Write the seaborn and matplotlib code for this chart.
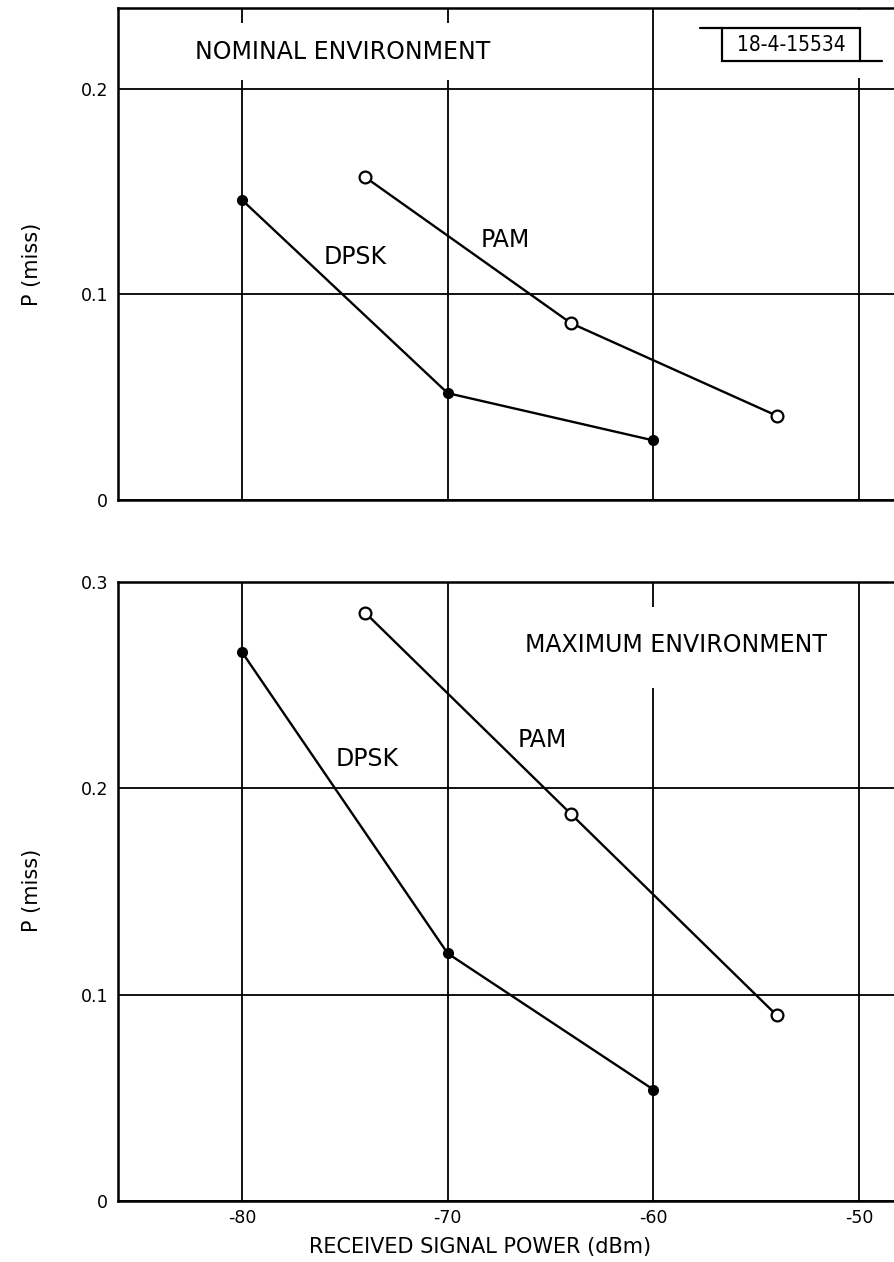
import matplotlib
matplotlib.use("Agg")
import matplotlib.pyplot as plt
import seaborn as sns
import pandas as pd
from matplotlib.patches import Rectangle
from matplotlib.lines import Line2D

# ---------------- data ----------------
power_dpsk = [-80, -70, -60]
power_pam = [-74, -64, -54]
nominal_dpsk = [0.146, 0.052, 0.029]
nominal_pam = [0.157, 0.086, 0.041]
maximum_dpsk = [0.266, 0.120, 0.054]
maximum_pam = [0.285, 0.1875, 0.090]

x_ticks = [-80, -70, -60, -50]
x_tick_labels = ["-80", "-70", "-60", "-50"]
top_y_ticks = [0, 0.1, 0.2]
top_y_labels = ["0", "0.1", "0.2"]
bot_y_ticks = [0, 0.1, 0.2, 0.3]
bot_y_labels = ["0", "0.1", "0.2", "0.3"]

sns.set_style("white")
plt.rcParams["font.family"] = ["DejaVu Sans"]
plt.rcParams["text.color"] = "black"
plt.rcParams["axes.labelcolor"] = "black"
plt.rcParams["xtick.color"] = "black"
plt.rcParams["ytick.color"] = "black"

W, H = 895, 1262
fig = plt.figure(figsize=(W / 100, H / 100), dpi=100)

def fx(px):
    return px / W

def fy(py):
    return 1 - py / H

# axes rectangles (pixel based)
L, R = 118, 895
top_t, top_b = 8, 500
bot_t, bot_b = 582, 1201
ax1 = fig.add_axes([fx(L), fy(top_b), fx(R - L), (top_b - top_t) / H])
ax2 = fig.add_axes([fx(L), fy(bot_b), fx(R - L), (bot_b - bot_t) / H])

xlim = (-86.03, -48.25)

def style_axes(ax, ylim, yticks, ylabels, show_x):
    ax.set_xlim(*xlim)
    ax.set_ylim(*ylim)
    ax.set_axisbelow(True)
    ax.set_xticks(x_ticks)
    ax.set_yticks(yticks)
    ax.set_yticklabels(ylabels)
    if show_x:
        ax.set_xticklabels(x_tick_labels)
    else:
        ax.set_xticklabels([])
    ax.tick_params(axis="both", length=0, labelsize=12.5, colors="black")
    ax.tick_params(axis="y", pad=7)
    ax.tick_params(axis="x", pad=6)
    ax.grid(True, color="black", linewidth=1.3)
    for s in ["left", "bottom", "top"]:
        ax.spines[s].set_visible(True)
        ax.spines[s].set_color("black")
        ax.spines[s].set_linewidth(1.8)
    ax.spines["right"].set_visible(False)

def draw_series(ax, dpsk, pam):
    d1 = pd.DataFrame({"power": power_dpsk, "p": dpsk})
    d2 = pd.DataFrame({"power": power_pam, "p": pam})
    sns.lineplot(data=d1, x="power", y="p", ax=ax, color="black", linewidth=1.7,
                 marker="o", markersize=7, markerfacecolor="black",
                 markeredgecolor="black", markeredgewidth=1.0, zorder=4)
    sns.lineplot(data=d2, x="power", y="p", ax=ax, color="black", linewidth=1.7,
                 marker="o", markersize=8.5, markerfacecolor="white",
                 markeredgecolor="black", markeredgewidth=1.6, zorder=4)

draw_series(ax1, nominal_dpsk, nominal_pam)
draw_series(ax2, maximum_dpsk, maximum_pam)

style_axes(ax1, (0, 0.2394), top_y_ticks, top_y_labels, False)
style_axes(ax2, (0, 0.3), bot_y_ticks, bot_y_labels, True)

for ax in (ax1, ax2):
    ax.set_xlabel("")
    ax.set_ylabel("P (miss)", fontsize=15, labelpad=0)
ax1.yaxis.set_label_coords(-0.098, 0.478)
ax2.yaxis.set_label_coords(-0.098, 0.502)
ax2.set_xlabel("RECEIVED SIGNAL POWER (dBm)", fontsize=15)
ax2.xaxis.set_label_coords(0.466, -0.058)

# white gaps in grid lines (as in the hand drawn original)
def white_box(ax, x0, y0, x1, y1, top, bot):
    ax_x0 = (x0 - L) / (R - L)
    ax_x1 = (x1 - L) / (R - L)
    ay0 = (bot - y1) / (bot - top)
    ay1 = (bot - y0) / (bot - top)
    ax.add_patch(Rectangle((ax_x0, ay0), ax_x1 - ax_x0, ay1 - ay0,
                           transform=ax.transAxes, facecolor="white",
                           edgecolor="none", zorder=1.5))

white_box(ax1, 170, 23, 520, 80, top_t, top_b)
white_box(ax1, 845, 10, 875, 78, top_t, top_b)
white_box(ax2, 640, 607, 670, 688, bot_t, bot_b)

# text labels
lab_kw = dict(fontsize=17, ha="center", va="center", color="black", zorder=5)
ax1.text(-75.1, 0.218, "NOMINAL ENVIRONMENT", **lab_kw)
ax1.text(-74.5, 0.118, "DPSK", **lab_kw)
ax1.text(-67.2, 0.1265, "PAM", **lab_kw)
ax2.text(-58.9, 0.2695, "MAXIMUM ENVIRONMENT", **lab_kw)
ax2.text(-73.9, 0.214, "DPSK", **lab_kw)
ax2.text(-65.4, 0.2235, "PAM", **lab_kw)

# stamp label (box drawn in figure pixels)
fig.add_artist(Rectangle((fx(722), fy(61)), fx(860 - 722), (61 - 28) / H,
                         transform=fig.transFigure, facecolor="white",
                         edgecolor="black", linewidth=1.6, zorder=6))
fig.text(fx(791), fy(45), "18-4-15534", fontsize=15, fontstretch="condensed",
         ha="center", va="center", color="black", zorder=7)
fig.add_artist(Line2D([fx(700), fx(722)], [fy(28), fy(28)],
                      transform=fig.transFigure, color="black", linewidth=1.6))
fig.add_artist(Line2D([fx(860), fx(882)], [fy(61), fy(61)],
                      transform=fig.transFigure, color="black", linewidth=1.6))

fig.savefig("out.png", dpi=100, facecolor="white")
